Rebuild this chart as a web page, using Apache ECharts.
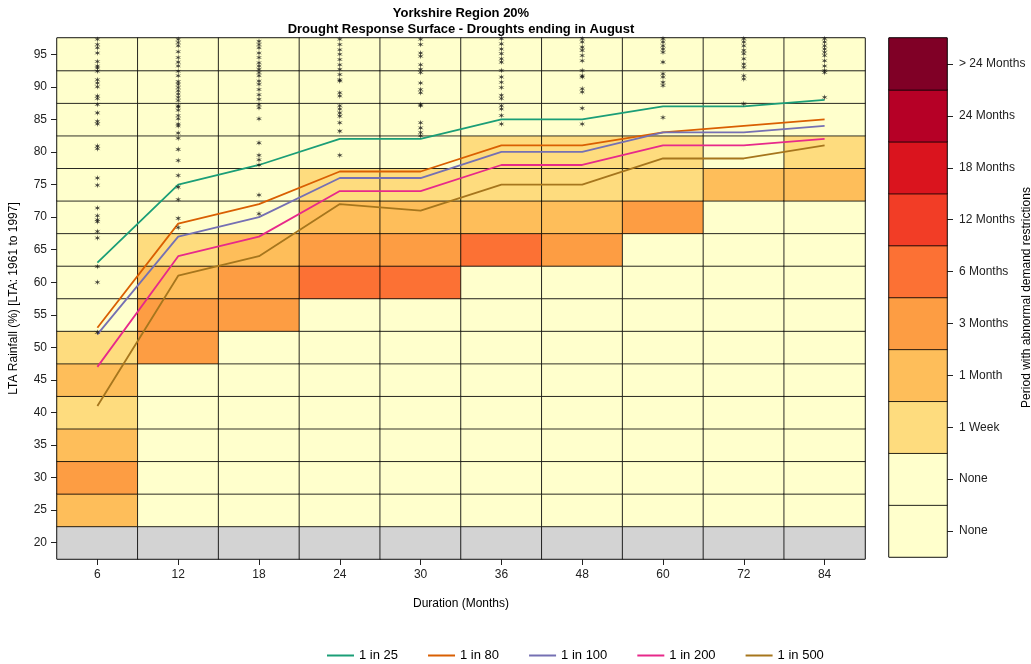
<!DOCTYPE html>
<html>
<head>
<meta charset="utf-8">
<script src="https://cdn.jsdelivr.net/npm/echarts@6/dist/echarts.min.js"></script>
<style>
  html, body { margin: 0; padding: 0; background: #fff; }
  #chart { width: 1031px; height: 664px; }
</style>
</head>
<body>
<div id="chart"></div>
<script>
// x categories and y bands (cell centres, % of LTA rainfall)
const durations = ["6", "12", "18", "24", "30", "36", "48", "60", "72", "84"];
const rainfallBands = ["20", "25", "30", "35", "40", "45", "50", "55", "60", "65", "70", "75", "80", "85", "90", "95"];

// restriction level per cell, bottom band (20%) to top (95%); G = no data (grey)
const G = -1;
const levels6 = [G, 3, 4, 3, 2, 3, 2, 0, 0, 0, 0, 0, 0, 0, 0, 0];
const levels12 = [G, 0, 0, 0, 0, 0, 4, 4, 3, 2, 0, 0, 0, 0, 0, 0];
const levels18 = [G, 0, 0, 0, 0, 0, 0, 4, 4, 3, 0, 0, 0, 0, 0, 0];
const levels24 = [G, 0, 0, 0, 0, 0, 0, 0, 5, 4, 3, 2, 0, 0, 0, 0];
const levels30 = [G, 0, 0, 0, 0, 0, 0, 0, 5, 4, 3, 2, 0, 0, 0, 0];
const levels36 = [G, 0, 0, 0, 0, 0, 0, 0, 0, 5, 3, 2, 2, 0, 0, 0];
const levels48 = [G, 0, 0, 0, 0, 0, 0, 0, 0, 4, 3, 2, 2, 0, 0, 0];
const levels60 = [G, 0, 0, 0, 0, 0, 0, 0, 0, 0, 4, 2, 2, 0, 0, 0];
const levels72 = [G, 0, 0, 0, 0, 0, 0, 0, 0, 0, 0, 3, 0, 0, 0, 0];
const levels84 = [G, 0, 0, 0, 0, 0, 0, 0, 0, 0, 0, 3, 2, 0, 0, 0];
const cellLevels = [levels6, levels12, levels18, levels24, levels30, levels36, levels48, levels60, levels72, levels84];

// colour key, bottom to top
const keyLabels = ["None", "None", "1 Week", "1 Month", "3 Months", "6 Months", "12 Months", "18 Months", "24 Months", "> 24 Months"];
const keyColors = ["#FFFFCC", "#FFFFCC", "#FEDC7E", "#FEBE5A", "#FD9D43", "#FC7134", "#F23D26", "#DA141E", "#B60026", "#800026"];
const noDataColor = "#D3D3D3";

// return period lines
const periodNames = ["1 in 25", "1 in 80", "1 in 100", "1 in 200", "1 in 500"];
const periodColors = ["#1B9E77", "#D95F02", "#7570B3", "#E7298A", "#A6761D"];
const oneIn25 = [63, 75, 78, 82, 82, 85, 85, 87, 87, 88];
const oneIn80 = [53, 69, 72, 77, 77, 81, 81, 83, 84, 85];
const oneIn100 = [52, 67, 70, 76, 76, 80, 80, 83, 83, 84];
const oneIn200 = [47, 64, 67, 74, 74, 78, 78, 81, 81, 82];
const oneIn500 = [41, 61, 64, 72, 71, 75, 75, 79, 79, 81];
const periodLines = [oneIn25, oneIn80, oneIn100, oneIn200, oneIn500];

// historic droughts (*)
const stars6 = [97.3, 96.5, 96.0, 95.2, 93.9, 93.2, 92.9, 92.4, 91.1, 90.6, 90.0, 88.6, 88.2, 87.3, 86.0, 84.7, 84.3, 80.9, 80.5, 76.0, 74.9, 71.4, 70.2, 69.6, 69.3, 67.8, 66.8, 62.4, 60.0, 52.3];
const stars12 = [97.3, 96.8, 96.3, 95.4, 94.5, 93.8, 93.2, 92.4, 91.7, 90.8, 90.4, 89.9, 89.4, 88.9, 88.4, 87.9, 87.1, 86.9, 86.4, 85.6, 85.1, 84.3, 84.0, 82.9, 82.1, 80.4, 78.7, 76.4, 74.6, 72.7, 69.8, 68.4];
const stars18 = [97.0, 96.5, 96.0, 95.2, 94.5, 93.7, 93.2, 92.7, 92.2, 91.7, 90.9, 90.4, 89.6, 88.8, 88.1, 87.3, 86.8, 85.1, 81.4, 79.5, 78.8, 78.0, 73.4, 70.5];
const stars24 = [97.3, 96.5, 95.7, 95.0, 94.2, 93.4, 92.7, 91.9, 91.1, 90.9, 89.1, 88.6, 87.1, 86.6, 86.0, 85.5, 84.5, 83.2, 79.5];
const stars30 = [97.3, 96.5, 95.2, 94.7, 93.4, 92.7, 92.2, 90.6, 89.6, 89.1, 87.3, 87.1, 84.5, 83.7, 83.0, 82.5];
const stars36 = [97.4, 96.6, 95.8, 95.1, 94.3, 93.8, 92.5, 91.5, 90.7, 89.9, 88.7, 88.2, 87.1, 86.6, 85.6, 84.3];
const stars48 = [97.4, 96.9, 96.1, 95.6, 94.8, 94.0, 92.5, 91.7, 91.5, 89.7, 89.2, 86.7, 84.3];
const stars60 = [97.4, 96.9, 96.3, 95.8, 95.3, 93.8, 92.0, 91.5, 90.7, 90.2, 85.3];
const stars72 = [97.4, 96.9, 96.3, 95.6, 95.1, 94.3, 93.5, 93.0, 91.7, 91.2, 87.4];
const stars84 = [97.4, 96.9, 96.3, 95.8, 95.3, 94.8, 94.0, 93.2, 92.5, 92.2, 88.4];
const starColumns = [stars6, stars12, stars18, stars24, stars30, stars36, stars48, stars60, stars72, stars84];

const FONT = "Liberation Sans";
const ASTERISK = "path://M5 0L5.8 3.7 9.4 2.4 6.5 5 9.4 7.6 5.8 6.3 5 10 4.2 6.3 0.6 7.6 3.5 5 0.6 2.4 4.2 3.7Z";

const cellColor = (level) => (level === G ? noDataColor : keyColors[level]);

const surfaceData = [];
cellLevels.forEach((column, xi) => {
    column.forEach((level, yi) => {
        surfaceData.push({ value: [xi, yi, level], itemStyle: { color: cellColor(level) } });
    });
});

const keyData = keyLabels.map((label, i) => ({ value: [0, i, i], itemStyle: { color: keyColors[i] } }));

const starData = [];
starColumns.forEach((values, xi) => {
    values.forEach((v) => starData.push([xi, v]));
});

const lineSeries = periodNames.map((name, i) => ({
    name: name,
    type: "line",
    xAxisIndex: 0,
    yAxisIndex: 1,
    data: periodLines[i],
    symbol: "none",
    lineStyle: { color: periodColors[i], width: 1.8 },
    itemStyle: { color: periodColors[i] },
    z: 5,
    silent: true
}));

const chart = echarts.init(document.getElementById("chart"));
chart.setOption({
    animation: false,
    textStyle: { fontFamily: FONT },
    title: {
        text: "Yorkshire Region 20%\nDrought Response Surface - Droughts ending in August",
        left: 461,
        top: 5,
        padding: 0,
        textAlign: "center",
        textStyle: { fontFamily: FONT, fontSize: 13, fontWeight: "bold", color: "#000", lineHeight: 16 }
    },
    legend: {
        data: periodNames,
        left: 322,
        top: 644,
        icon: "rect",
        itemWidth: 27,
        itemHeight: 2,
        itemGap: 30,
        textStyle: { fontFamily: FONT, fontSize: 13, color: "#000" }
    },
    grid: [
        { left: 57, top: 38, width: 808, height: 521, outerBoundsMode: "none", show: true, borderColor: "#222", borderWidth: 1, backgroundColor: "transparent" },
        { left: 889, top: 38, width: 58, height: 519, outerBoundsMode: "none", show: true, borderColor: "#222", borderWidth: 1, backgroundColor: "transparent" }
    ],
    xAxis: [
        {
            type: "category",
            gridIndex: 0,
            data: durations,
            name: "Duration (Months)",
            nameLocation: "middle",
            nameGap: 39,
            nameTextStyle: { fontSize: 12, color: "#000" },
            axisLine: { show: false },
            axisTick: { show: true, alignWithLabel: true, length: 6, lineStyle: { color: "#222" } },
            axisLabel: { fontSize: 12, color: "#222", margin: 10 },
            splitLine: { show: false }
        },
        {
            type: "category",
            gridIndex: 1,
            data: ["key"],
            show: false
        }
    ],
    yAxis: [
        {
            type: "category",
            gridIndex: 0,
            data: rainfallBands,
            name: "LTA Rainfall (%) [LTA: 1961 to 1997]",
            nameLocation: "middle",
            nameGap: 37,
            nameMoveOverlap: false,
            nameTextStyle: { fontSize: 12, color: "#000" },
            axisLine: { show: false },
            axisTick: { show: true, alignWithLabel: true, length: 6, lineStyle: { color: "#222" } },
            axisLabel: { fontSize: 12, color: "#222", margin: 10 },
            splitLine: { show: false }
        },
        {
            type: "value",
            gridIndex: 0,
            min: 17.5,
            max: 97.5,
            show: false,
            splitLine: { show: false }
        },
        {
            type: "category",
            gridIndex: 1,
            position: "right",
            data: keyLabels,
            name: "Period with abnormal demand restrictions",
            nameLocation: "middle",
            nameRotate: 90,
            nameGap: 74,
            nameMoveOverlap: false,
            nameTextStyle: { fontSize: 12, color: "#000" },
            axisLine: { show: false },
            axisTick: { show: true, alignWithLabel: true, length: 6, lineStyle: { color: "#222" } },
            axisLabel: { fontSize: 12, color: "#222", margin: 12 },
            splitLine: { show: false }
        }
    ],
    series: [
        {
            type: "heatmap",
            xAxisIndex: 0,
            yAxisIndex: 0,
            data: surfaceData,
            itemStyle: { borderColor: "rgba(0,0,0,0.8)", borderWidth: 1 },
            emphasis: { disabled: true },
            silent: true,
            z: 1
        },
        {
            type: "heatmap",
            xAxisIndex: 1,
            yAxisIndex: 2,
            data: keyData,
            itemStyle: { borderColor: "rgba(0,0,0,0.8)", borderWidth: 1 },
            emphasis: { disabled: true },
            silent: true,
            z: 1
        },
        ...lineSeries,
        {
            type: "scatter",
            xAxisIndex: 0,
            yAxisIndex: 1,
            data: starData,
            symbol: ASTERISK,
            symbolSize: 6,
            itemStyle: { color: "#111" },
            silent: true,
            z: 6
        }
    ]
});
</script>
</body>
</html>
